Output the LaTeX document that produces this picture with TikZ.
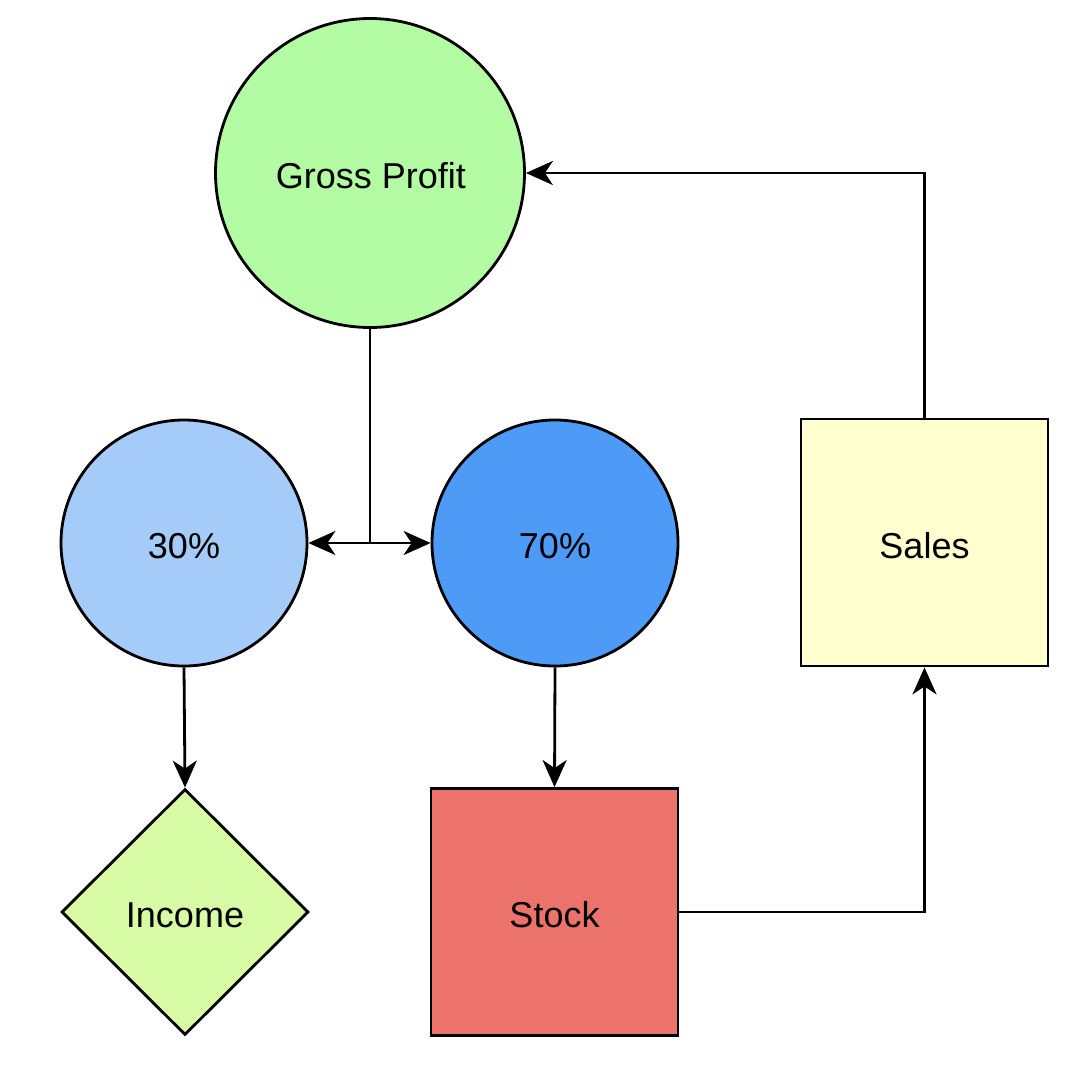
\documentclass[tikz,border=0pt]{standalone}
\usepackage{fontspec}
\setmainfont{Liberation Sans}
\usetikzlibrary{shapes.geometric,arrows.meta}
\definecolor{gpgreen}{HTML}{B3FCA3}
\definecolor{lightblue}{HTML}{A5CBF8}
\definecolor{midblue}{HTML}{4E9BF7}
\definecolor{salesyellow}{HTML}{FFFFD0}
\definecolor{stockred}{HTML}{EC726C}
\definecolor{incomegreen}{HTML}{D8FCA5}
\begin{document}
\begin{tikzpicture}[x=1pt,y=-1pt,
  every node/.style={font=\fontsize{36}{40}\selectfont, line width=2.8pt, draw=black, inner sep=0pt},
  lbl/.style={draw=none, fill=none},
  bigcircle/.style={circle, minimum size=309pt},
  smallcircle/.style={circle, minimum size=246pt},
  boxnode/.style={rectangle, minimum size=247pt},
  diamondnode/.style={diamond, minimum width=247pt, minimum height=246pt, aspect=1},
  conn/.style={line width=2.8pt, -{Stealth[length=27pt,width=24pt,inset=8pt]}},
  plain/.style={line width=2.8pt}
]
\useasboundingbox (0,0) rectangle (1092,1082);
\node[bigcircle, fill=gpgreen] (gp) at (370,173) {};
\node[lbl] (gpt) at (371,176) {Gross Profit};
\node[smallcircle, fill=lightblue] (p30) at (184,543) {};
\node[lbl] (p30t) at (184,546) {30\%};
\node[smallcircle, fill=midblue] (p70) at (555,543) {};
\node[lbl] (p70t) at (555,546) {70\%};
\node[boxnode, fill=salesyellow] (sales) at (924.5,542.5) {};
\node[lbl] (salest) at (924.5,545.5) {Sales};
\node[diamondnode, fill=incomegreen] (income) at (185,912) {};
\node[lbl] (incomet) at (185,915) {Income};
\node[boxnode, fill=stockred] (stock) at (554.5,912) {};
\node[lbl] (stockt) at (554.5,915) {Stock};
\coordinate (split) at (370,543);
\draw[plain] (gp.south) -- (split);
\draw[conn] (split) -- (p30.east);
\draw[conn] (split) -- (p70.west);
\draw[conn] (p30.south) -- (income.north);
\draw[conn] (p70.south) -- (stock.north);
\draw[conn] (stock.east) -| (sales.south);
\draw[conn] (sales.north) |- (gp.east);
\end{tikzpicture}
\end{document}
